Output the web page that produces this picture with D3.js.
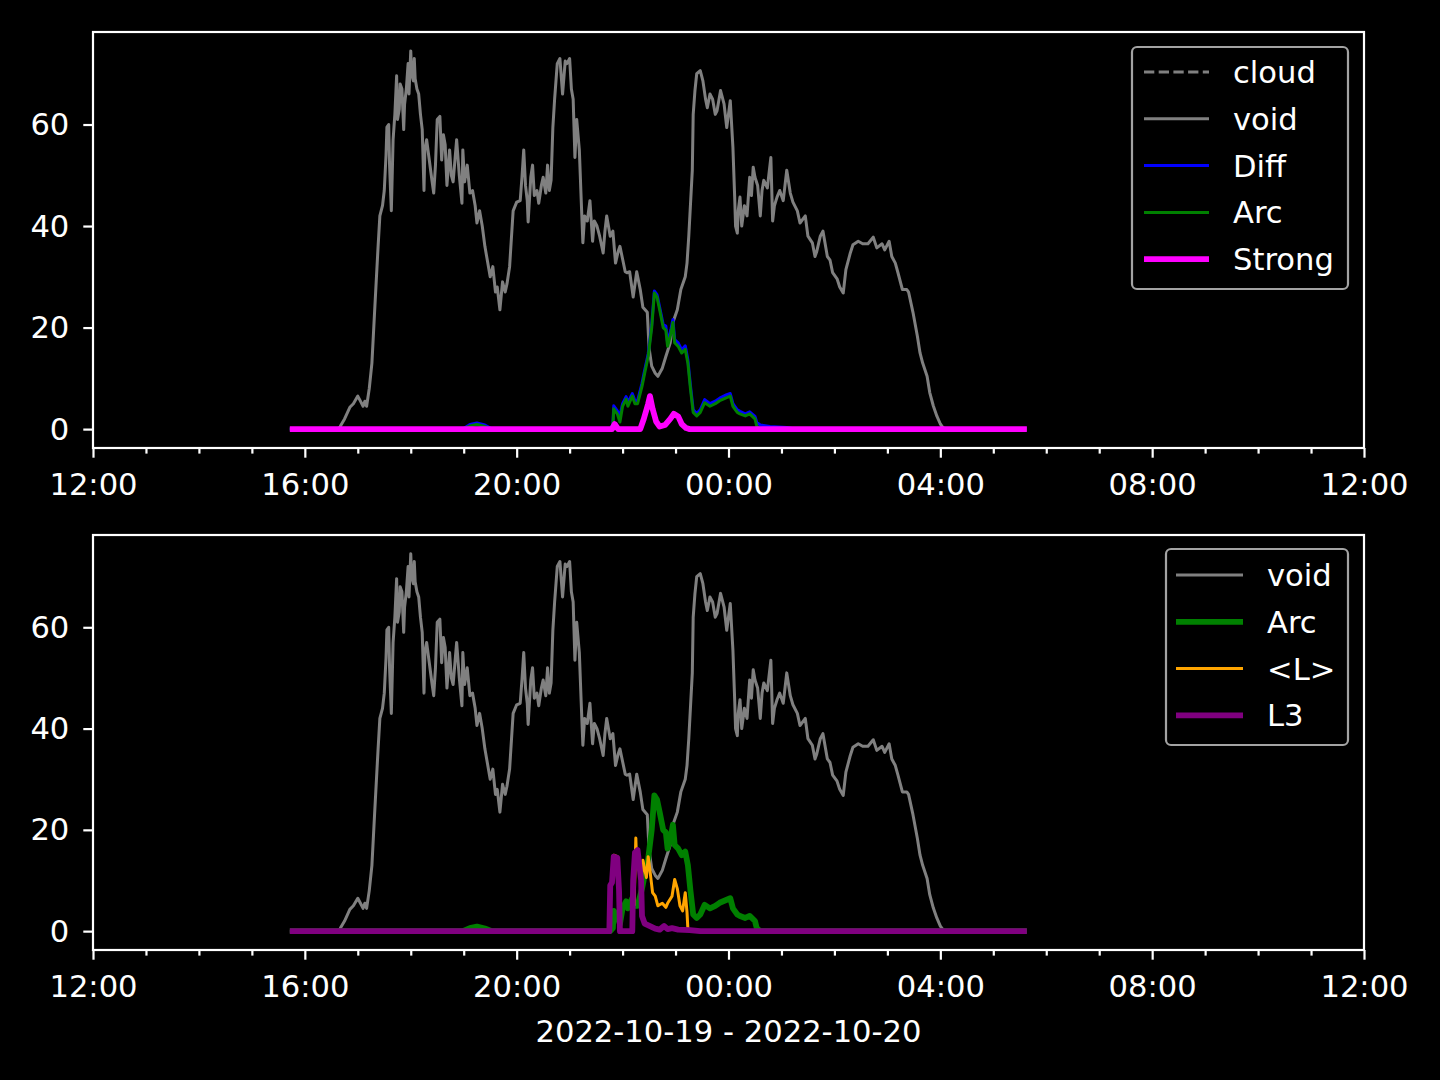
<!DOCTYPE html>
<html><head><meta charset="utf-8">
<script src="https://cdn.jsdelivr.net/npm/d3@7"></script>
<style>
html,body{margin:0;padding:0;background:#000;}
svg{display:block;font-family:"DejaVu Sans",sans-serif;}
</style></head>
<body><svg id="chart" width="1440" height="1080"></svg>
<script>
// ---------------- DATA ----------------
const xTickLabels = ["12:00","16:00","20:00","00:00","04:00","08:00","12:00"];
const yTickValues = [0,20,40,60];
const xAxisLabel = "2022-10-19 - 2022-10-20";

const voidTimes = ["15:43","16:38","16:40","16:45","16:51","16:55","17:00","17:03","17:06","17:08","17:10","17:13","17:16","17:19","17:23","17:25","17:28","17:30","17:32","17:33","17:35","17:36","17:38","17:40","17:42","17:44","17:45","17:47","17:48","17:50","17:52","17:53","17:55","17:57","17:58","18:00","18:01","18:03","18:04","18:05","18:07","18:09","18:11","18:13","18:15","18:16","18:18","18:21","18:24","18:26","18:28","18:30","18:33","18:35","18:37","18:39","18:41","18:44","18:46","18:48","18:52","18:55","18:58","18:59","19:01","19:04","19:07","19:10","19:13","19:15","19:18","19:21","19:24","19:27","19:30","19:33","19:36","19:38","19:41","19:44","19:47","19:49","19:52","19:56","20:00","20:04","20:06","20:08","20:10","20:12","20:13","20:16","20:18","20:20","20:23","20:25","20:28","20:30","20:33","20:35","20:37","20:39","20:41","20:43","20:46","20:49","20:52","20:55","20:57","21:00","21:02","21:04","21:06","21:08","21:11","21:13","21:15","21:17","21:20","21:23","21:26","21:28","21:31","21:34","21:38","21:40","21:42","21:46","21:49","21:52","21:55","21:57","22:00","22:03","22:05","22:08","22:12","22:16","22:20","22:23","22:28","22:30","22:33","22:37","22:40","22:45","22:49","22:54","22:57","23:02","23:06","23:11","23:13","23:15","23:19","23:20","23:22","23:24","23:28","23:31","23:34","23:36","23:39","23:42","23:45","23:47","23:51","23:55","23:58","00:02","00:05","00:07","00:08","00:10","00:11","00:13","00:15","00:18","00:21","00:24","00:26","00:28","00:30","00:33","00:36","00:38","00:40","00:44","00:48","00:50","00:52","00:55","00:58","01:02","01:06","01:10","01:13","01:18","01:21","01:27","01:30","01:35","01:38","01:40","01:44","01:47","01:52","01:55","01:58","02:03","02:06","02:10","02:13","02:18","02:21","02:27","02:32","02:38","02:44","02:48","02:54","02:57","03:02","03:05","03:09","03:12","03:17","03:22","03:24","03:29","03:34","03:37","03:40","03:45","03:48","03:52","03:56","04:00","04:03","04:06","05:38"];
const voidValues = [0,0,0.5,2,4.3,5,6.5,5.5,4.5,5.5,4.5,8,13,23,36,42,44,47,54,59.5,60,52,43,57,62,69.6,61,63,68,67,59,64,67,72,66,74.5,70,68.6,73,69,67,66,62,59,47,55,57,53,49,46.5,52,61,61.6,53,58,56,48,55,50,48.7,57,50,44.5,55,48.7,52,46.5,47,44,40.6,43,40,36,33,30,32,27,28,23.5,29,27,28.6,32,43,44.7,45,49.6,55,48,45,40.8,49.6,52,46,47,44.5,48,49.6,46.5,52,47,49,59.4,65,72,73,66,72.5,72,73,67,65,53.5,61,55,45.7,36.7,42,41,45,37,41,40,38,34.7,39,42,38,39,32.7,35,36,33.5,31,30.8,31,26,31,27.5,24,23,16,12.4,11,10.4,12,14.3,17,21,23.5,27.5,30,32.7,38,51,62,66.7,70,70.6,68.6,65,63.3,66,65,62,62.7,66.7,64,59.4,64.7,55.5,45.7,40,38.6,43,45.7,40,44,42,49.6,46,51.6,49.6,48,42,47,49,47.5,53.5,41,44,45.7,47,45,51,46.5,44.7,43,40.6,42,38,36.7,34,35,38,39,34,33.3,30.8,29.6,28,26.8,31.4,34.7,36.3,37,36.5,36.5,37.8,35.7,36.5,35.3,37,34,32.7,30.8,27.5,27.5,27,23,18.3,15,13,10.4,7.2,4.6,2.6,1,0.3,0,0];

const cloudTimes = ["15:43","05:38"];
const cloudValues = [null,null];

const arcTimes = ["15:43","18:59","19:07","19:15","19:24","19:32","21:46","21:49","21:50","21:54","21:57","22:00","22:04","22:06","22:11","22:14","22:17","22:22","22:25","22:29","22:33","22:36","22:39","22:42","22:46","22:49","22:51","22:55","22:57","22:59","23:03","23:07","23:11","23:14","23:17","23:20","23:24","23:28","23:33","23:39","23:45","23:50","23:58","00:02","00:05","00:10","00:13","00:19","00:24","00:30","00:32","00:36","05:38"];
const arcValues = [0,0,0.6,0.9,0.5,0,0,0.6,4,3,1.4,4.5,5.9,4.5,6.5,5,5,8.4,11,14.3,20,26.8,26,23.5,20,19.5,16.3,19,21,17,16.3,15,15.7,13,7.8,3.3,2.6,3.3,5.2,4.5,5,5.6,6.2,6.5,4.5,3.3,3,2.6,3,2,0.6,0,0];

const diffTimes = ["15:43","18:59","19:07","19:15","19:24","19:32","21:46","21:49","21:50","21:54","21:57","22:00","22:04","22:06","22:11","22:14","22:17","22:22","22:25","22:29","22:33","22:36","22:39","22:42","22:46","22:49","22:51","22:55","22:57","22:59","23:03","23:07","23:11","23:14","23:17","23:20","23:24","23:28","23:33","23:39","23:45","23:50","23:58","00:02","00:05","00:10","00:13","00:19","00:24","00:30","00:32","00:36","00:47","01:06","01:15","05:38"];
const diffValues = [0,0,0.9,1.2,0.8,0,0,0.9,4.6,3.6,2.6,5,6.4,5.2,7,5.6,5.6,9,11.6,14.8,20.6,27.2,26.5,24,20.6,20.3,17,19.8,21.6,17.6,17,15.6,16.4,13.6,8.4,3.8,3.1,3.8,5.8,5,5.5,6.1,6.8,7,5,3.8,3.5,3,3.4,2.5,1.3,0.8,0.5,0.3,0,0];

const strongTimes = ["15:43","21:48","21:51","21:55","22:20","22:24","22:29","22:31","22:34","22:38","22:42","22:48","22:54","22:58","23:03","23:07","23:12","23:16","05:38"];
const strongValues = [0,0,1,0,0,2,5,6.5,4,1.5,0.5,0.8,2,3,2.5,1,0.2,0,0];

const lavgTimes = ["21:46","21:48","21:50","21:54","21:56","21:57","22:05","22:13","22:15","22:16","22:18","22:21","22:22","22:23","22:27","22:29","22:31","22:34","22:37","22:40","22:45","22:49","22:51","22:56","22:59","23:02","23:05","23:08","23:11","23:13","23:14"];
const lavgValues = [9,10,15,14.7,8,0.5,null,5,18.4,13,15,10,11.5,14,10.6,14.7,12,7.6,6.9,5,5.5,4.7,5.5,6.9,10.2,8.4,5,4,7.6,3.7,0.4];

const l3Times = ["15:43","21:45","21:46","21:48","21:50","21:54","21:56","21:57","22:11","22:12","22:14","22:17","22:21","22:22","22:25","22:31","22:37","22:42","22:47","22:51","22:56","23:03","23:16","23:28","05:38"];
const l3Values = [0,0,9,9.6,14.7,14.5,8,0,0,10,15.5,16,10,3,1.5,1,0.5,0.3,1,0.4,0.6,0.3,0.2,0,0];

// ---------------- HELPERS ----------------
function parseT(s){
  const [h,m] = s.split(":").map(Number);
  return h < 12 ? new Date(2022,9,20,h,m) : new Date(2022,9,19,h,m);
}
function series(times, values){
  return times.map((t,i)=>({t:parseT(t), v:values[i]}));
}

const svg = d3.select("#chart");
svg.append("rect").attr("width",1440).attr("height",1080).attr("fill","#000");

const X0 = 93, X1 = 1364;
const xScale = d3.scaleTime()
  .domain([new Date(2022,9,19,12,0), new Date(2022,9,20,12,0)])
  .range([X0, X1]);

const ymaxData = d3.max(voidValues);
const yDomain = [-0.05*ymaxData, 1.05*ymaxData];

const FS = 30.6;
const majorTicks = d3.range(0,7).map(i=>new Date(2022,9,19,12+4*i,0));
const minorTicks = d3.range(0,25).filter(i=>i%4!==0).map(i=>new Date(2022,9,19,12+i,0));

function drawPanel(top, bottom, lines, legend, clipId){
  const y = d3.scaleLinear().domain(yDomain).range([bottom, top]);
  const g = svg.append("g");
  g.append("clipPath").attr("id",clipId).append("rect")
    .attr("x",X0).attr("y",top).attr("width",X1-X0).attr("height",bottom-top);

  const plot = g.append("g").attr("clip-path",`url(#${clipId})`);
  lines.forEach(L=>{
    const data = series(L.times, L.values);
    const line = d3.line().defined(d=>d.v!==null).x(d=>xScale(d.t)).y(d=>y(d.v));
    plot.append("path").datum(data)
      .attr("d",line).attr("fill","none")
      .attr("stroke",L.color).attr("stroke-width",L.width)
      .attr("stroke-linejoin","round").attr("stroke-linecap","butt")
      .attr("stroke-dasharray",L.dash||null);
  });

  const xa = d3.axisBottom(xScale).tickValues(majorTicks)
    .tickFormat((d,i)=>xTickLabels[i]).tickSize(9.7).tickPadding(8);
  const gx = g.append("g").attr("transform",`translate(0,${bottom})`).call(xa);
  const xm = d3.axisBottom(xScale).tickValues(minorTicks).tickFormat("").tickSize(5.6);
  const gxm = g.append("g").attr("transform",`translate(0,${bottom})`).call(xm);
  const ya = d3.axisLeft(y).tickValues(yTickValues).tickFormat(d3.format("d")).tickSize(9.7).tickPadding(14);
  const gy = g.append("g").attr("transform",`translate(${X0},0)`).call(ya);

  [gx,gxm,gy].forEach(a=>{
    a.select(".domain").remove();
    a.selectAll(".tick line").attr("stroke","#fff").attr("stroke-width",2.2);
    a.selectAll(".tick text").attr("fill","#fff").attr("font-size",FS)
      .attr("font-family","DejaVu Sans");
  });
  gy.selectAll(".tick text").attr("dy","0.33em");
  gx.selectAll(".tick text").attr("y",47).attr("dy",null);

  g.append("rect").attr("x",X0).attr("y",top).attr("width",X1-X0).attr("height",bottom-top)
    .attr("fill","none").attr("stroke","#fff").attr("stroke-width",2.2);

  const lg = g.append("g");
  lg.append("rect").attr("x",legend.x0).attr("y",legend.y0)
    .attr("width",legend.x1-legend.x0).attr("height",legend.y1-legend.y0)
    .attr("rx",5).attr("ry",5)
    .attr("fill","#000").attr("fill-opacity",0.8)
    .attr("stroke","#a3a3a3").attr("stroke-width",2.2);
  lines.forEach((L,i)=>{
    const yy = legend.rowY + i*legend.rowH;
    lg.append("line").attr("x1",legend.hx0).attr("x2",legend.hx1)
      .attr("y1",yy).attr("y2",yy)
      .attr("stroke",L.color).attr("stroke-width",L.lw||L.width)
      .attr("stroke-dasharray",L.dash||null);
    lg.append("text").attr("x",legend.tx).attr("y",yy).attr("dy","0.36em")
      .attr("fill","#fff").attr("font-size",FS).text(L.name);
  });
}

drawPanel(32, 448, [
  {name:"cloud", times:cloudTimes, values:cloudValues, color:"#808080", width:3, dash:"10.3,4.4"},
  {name:"void", times:voidTimes, values:voidValues, color:"#808080", width:3},
  {name:"Diff", times:diffTimes, values:diffValues, color:"#0000ff", width:3},
  {name:"Arc", times:arcTimes, values:arcValues, color:"#008000", width:3},
  {name:"Strong", times:strongTimes, values:strongValues, color:"#ff00ff", width:5.8}
], {x0:1132,x1:1348,y0:47,y1:289,hx0:1144,hx1:1209,tx:1233,rowY:72,rowH:46.8}, "clipTop");

drawPanel(535, 950, [
  {name:"void", times:voidTimes, values:voidValues, color:"#808080", width:3},
  {name:"Arc", times:arcTimes, values:arcValues, color:"#008000", width:5.8},
  {name:"<L>", times:lavgTimes, values:lavgValues, color:"#ffa500", width:3},
  {name:"L3", times:l3Times, values:l3Values, color:"#800080", width:5.8}
], {x0:1166,x1:1348,y0:549,y1:745,hx0:1176,hx1:1243,tx:1267,rowY:575,rowH:46.8}, "clipBot");

svg.append("text").attr("x",(X0+X1)/2).attr("y",1042).attr("text-anchor","middle")
  .attr("fill","#fff").attr("font-size",FS).text(xAxisLabel);
</script></body></html>
